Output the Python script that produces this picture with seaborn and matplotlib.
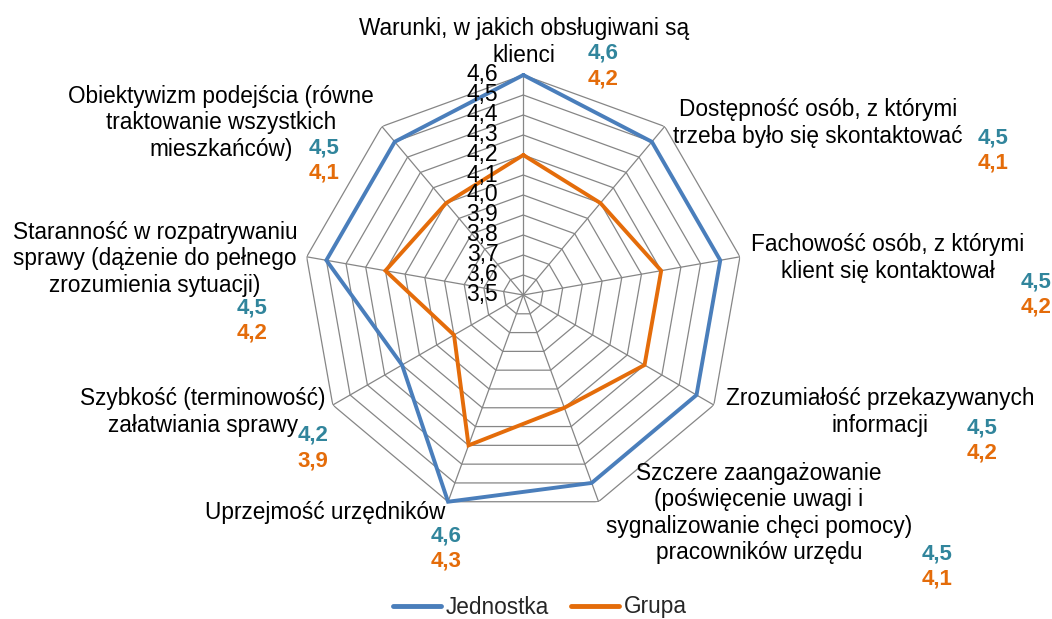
import numpy as np
import pandas as pd
import matplotlib
matplotlib.use("Agg")
import matplotlib.pyplot as plt
from matplotlib.lines import Line2D
import seaborn as sns

sns.set_style("white")
plt.rcParams['font.family'] = ['Liberation Sans', 'DejaVu Sans']

# Data (clockwise from the top)
categories = [
    "Warunki, w jakich obsługiwani są\nklienci",
    "Dostępność osób, z którymi\ntrzeba było się skontaktować",
    "Fachowość osób, z którymi\nklient się kontaktował",
    "Zrozumiałość przekazywanych\ninformacji",
    "Szczere zaangażowanie\n(poświęcenie uwagi i\nsygnalizowanie chęci pomocy)\npracowników urzędu",
    "Uprzejmość urzędników",
    "Szybkość (terminowość)\nzałatwiania sprawy",
    "Staranność w rozpatrywaniu\nsprawy (dążenie do pełnego\nzrozumienia sytuacji)",
    "Obiektywizm podejścia (równe\ntraktowanie wszystkich\nmieszkańców)",
]
jednostka = [4.6, 4.5, 4.5, 4.5, 4.5, 4.6, 4.2, 4.5, 4.5]
grupa = [4.2, 4.1, 4.2, 4.2, 4.1, 4.3, 3.9, 4.2, 4.1]
series_names = ["Jednostka", "Grupa"]
r_ticks = [3.5, 3.6, 3.7, 3.8, 3.9, 4.0, 4.1, 4.2, 4.3, 4.4, 4.5, 4.6]
r_tick_labels = ["3,5", "3,6", "3,7", "3,8", "3,9", "4,0", "4,1", "4,2", "4,3", "4,4", "4,5", "4,6"]

LINE_COLORS = {"Jednostka": "#4A7EBB", "Grupa": "#E46C0A"}
TEXT_COLORS = {"Jednostka": "#31859C", "Grupa": "#E46C0A"}
GRID = "#868686"
W, H = 1052, 619

# layout: label centre (px) and value label centre (px) for each category
label_pos = [(524, 42), (818, 123), (888, 258), (880, 412), (759, 513),
             (325, 513), (203, 412), (155, 259), (221, 123)]
value_pos = [(603, 53), (993, 138), (1036, 282), (982, 428), (937, 554),
             (446, 536), (313, 435), (252, 308), (324, 148)]


def fx(x):
    return x / W


def fy(y):
    return 1 - y / H


n = len(categories)
theta = np.linspace(0, 2 * np.pi, n, endpoint=False)
theta_closed = np.append(theta, theta[0])

rows = []
for name, vals in zip(series_names, [jednostka, grupa]):
    for t, v in zip(theta_closed, vals + vals[:1]):
        rows.append({"series": name, "theta": t, "value": v})
df = pd.DataFrame(rows)

fig = plt.figure(figsize=(W / 100, H / 100), dpi=100)
cx, cy, R = 523.3, 295, 220
ax = fig.add_axes([fx(cx - R), fy(cy + R), 2 * R / W, 2 * R / H], projection="polar")
ax.set_theta_zero_location("N")
ax.set_theta_direction(-1)
ax.set_ylim(r_ticks[0], r_ticks[-1])
ax.grid(False)
ax.spines["polar"].set_visible(False)
ax.set_xticks([])
ax.set_yticks([])
ax.set_facecolor("none")

# polygon grid
for lvl in r_ticks[1:]:
    ax.plot(theta_closed, [lvl] * len(theta_closed), color=GRID, lw=0.9, zorder=1)
for t in theta:
    ax.plot([t, t], [r_ticks[0], r_ticks[-1]], color=GRID, lw=0.9, zorder=1)

sns.lineplot(data=df, x="theta", y="value", hue="series", palette=LINE_COLORS,
             sort=False, estimator=None, lw=2.8, legend=False, ax=ax,
             solid_joinstyle="miter", clip_on=False, zorder=3)
ax.set_xlabel("")
ax.set_ylabel("")

# radial tick labels along the top spoke
for lvl, lbl in zip(r_ticks, r_tick_labels):
    ax.annotate(lbl, xy=(0, lvl), xytext=(-25, 0), textcoords="offset pixels",
                ha="right", va="center", fontsize=16.5, color="black", zorder=4)

# category labels and value labels
for i, cat in enumerate(categories):
    lx, ly = label_pos[i]
    fig.text(fx(lx), fy(ly), cat, ha="center", va="center", multialignment="center",
             fontsize=16.3, linespacing=1.2, color="black")
    vx, vy = value_pos[i]
    fig.text(fx(vx), fy(vy), f"{jednostka[i]:.1f}".replace(".", ","), ha="center",
             va="center", fontsize=16, fontweight="bold", color=TEXT_COLORS["Jednostka"])
    fig.text(fx(vx), fy(vy + 25.5), f"{grupa[i]:.1f}".replace(".", ","), ha="center",
             va="center", fontsize=16, fontweight="bold", color=TEXT_COLORS["Grupa"])

handles = [Line2D([0], [0], color=LINE_COLORS[s], lw=3.5) for s in series_names]
fig.legend(handles, series_names, loc="center", bbox_to_anchor=(fx(540), fy(607)),
           ncol=2, frameon=False, fontsize=16.3, handlelength=2.1, handletextpad=0.2,
           columnspacing=1.0)

fig.savefig("out.png", dpi=100)
